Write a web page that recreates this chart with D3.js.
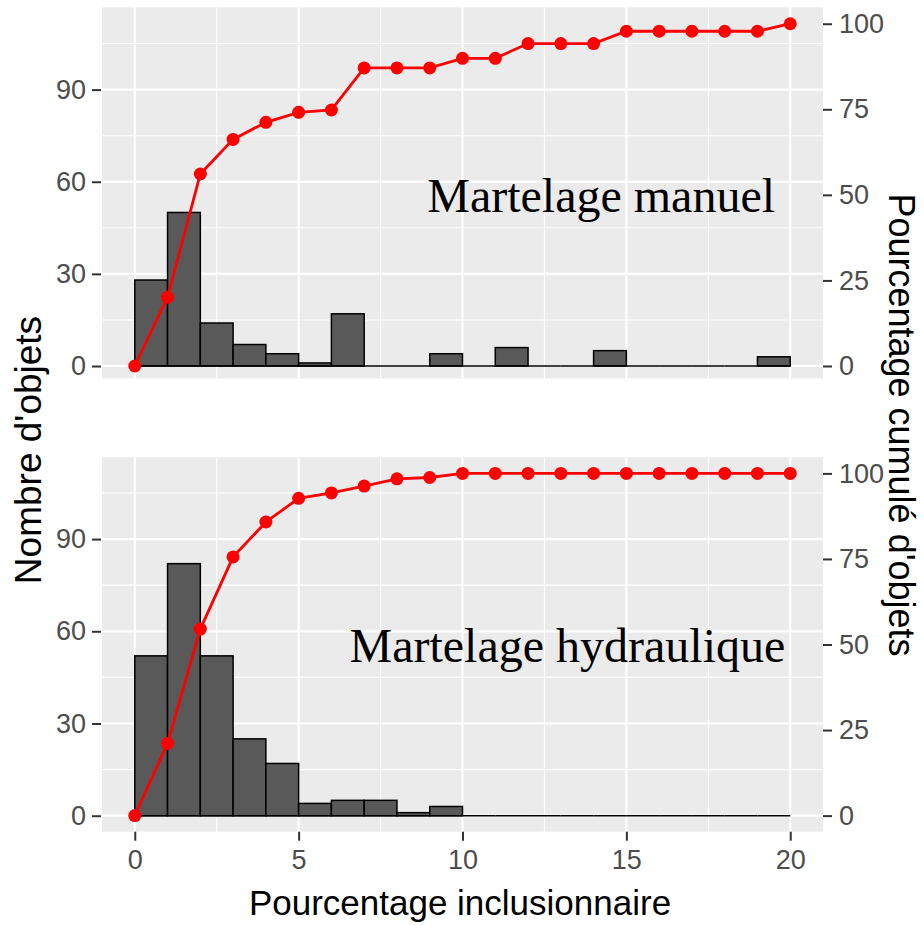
<!DOCTYPE html>
<html>
<head>
<meta charset="utf-8">
<title>Pourcentage inclusionnaire</title>
<script src="https://cdn.jsdelivr.net/npm/d3@7"></script>
<style>
  html, body { margin: 0; background: #fff; }
</style>
</head>
<body>
<script>
// bins of 1 % (0-1, 1-2, ... 19-20)
var binStarts = [0,1,2,3,4,5,6,7,8,9,10,11,12,13,14,15,16,17,18,19];
var cumX = [0,1,2,3,4,5,6,7,8,9,10,11,12,13,14,15,16,17,18,19,20];

var countsManuel = [28,50,14,7,4,1,17,0,0,4,0,6,0,0,5,0,0,0,0,3];
var cumManuel = [0,20.1,56.1,66.2,71.2,74.1,74.8,87.1,87.1,87.1,89.9,89.9,94.2,94.2,94.2,97.8,97.8,97.8,97.8,97.8,100];

var countsHydro = [52,82,52,25,17,4,5,5,1,3,0,0,0,0,0,0,0,0,0,0];
var cumHydro = [0,21.1,54.5,75.6,85.8,92.7,94.3,96.3,98.4,98.8,100,100,100,100,100,100,100,100,100,100,100];

var countTicks = [0,30,60,90];
var countMinor = [15,45,75,105];
var cumTicks = [0,25,50,75,100];
var xTicks = [0,5,10,15,20];
var xMinor = [2.5,7.5,12.5,17.5];

var width = 924, height = 925;
var svg = d3.select('body').append('svg').attr('width', width).attr('height', height);

var x = d3.scaleLinear().domain([-1, 21]).range([102, 823]);

// panel layout (pixels)
var panels = [
  {label: 'Martelage manuel', counts: countsManuel, cum: cumManuel,
   top: 7.3, bottom: 378.3, countDom: [-4.0, 116.8], cumDom: [-3.6, 104.8], labelX: 14.23},
  {label: 'Martelage hydraulique', counts: countsHydro, cum: cumHydro,
   top: 457.3, bottom: 831.7, countDom: [-5.2, 116.6], cumDom: [-4.7, 104.7], labelX: 13.2}
];

var sans = '"Liberation Sans", Arial, sans-serif';

panels.forEach(function(p, pi){
  var yC = d3.scaleLinear().domain(p.countDom).range([p.bottom, p.top]);
  var yP = d3.scaleLinear().domain(p.cumDom).range([p.bottom, p.top]);
  var g = svg.append('g');

  g.append('rect').attr('x', x.range()[0]).attr('y', p.top)
    .attr('width', x.range()[1] - x.range()[0]).attr('height', p.bottom - p.top)
    .attr('fill', '#EBEBEB');

  // grid
  g.selectAll('.hmin').data(countMinor).enter().append('line')
    .attr('x1', x.range()[0]).attr('x2', x.range()[1])
    .attr('y1', yC).attr('y2', yC).attr('stroke', '#fff').attr('stroke-width', 1.1);
  g.selectAll('.vmin').data(xMinor).enter().append('line')
    .attr('x1', x).attr('x2', x).attr('y1', p.top).attr('y2', p.bottom)
    .attr('stroke', '#fff').attr('stroke-width', 1.1);
  g.selectAll('.hmaj').data(countTicks).enter().append('line')
    .attr('x1', x.range()[0]).attr('x2', x.range()[1])
    .attr('y1', yC).attr('y2', yC).attr('stroke', '#fff').attr('stroke-width', 2.2);
  g.selectAll('.vmaj').data(xTicks).enter().append('line')
    .attr('x1', x).attr('x2', x).attr('y1', p.top).attr('y2', p.bottom)
    .attr('stroke', '#fff').attr('stroke-width', 2.2);

  // histogram bars
  g.selectAll('.bar').data(p.counts).enter().append('rect')
    .attr('x', function(d, i){ return x(binStarts[i]); })
    .attr('width', function(d, i){ return x(binStarts[i] + 1) - x(binStarts[i]); })
    .attr('y', function(d){ return yC(d); })
    .attr('height', function(d){ return yC(0) - yC(d); })
    .attr('fill', '#595959').attr('stroke', '#000').attr('stroke-width', 1.5);
  // empty bins still show their outline along the baseline
  g.selectAll('.base').data(p.counts).enter().append('line')
    .attr('x1', function(d, i){ return x(binStarts[i]); })
    .attr('x2', function(d, i){ return x(binStarts[i] + 1); })
    .attr('y1', yC(0)).attr('y2', yC(0))
    .attr('stroke', '#000').attr('stroke-width', 1.5);

  // cumulative line + points
  var line = d3.line().x(function(d, i){ return x(cumX[i]); }).y(function(d){ return yP(d); });
  g.append('path').datum(p.cum).attr('d', line)
    .attr('fill', 'none').attr('stroke', '#FF0000').attr('stroke-width', 2.8);
  g.selectAll('.pt').data(p.cum).enter().append('circle')
    .attr('cx', function(d, i){ return x(cumX[i]); })
    .attr('cy', function(d){ return yP(d); })
    .attr('r', 6.5).attr('fill', '#FF0000');

  // annotation
  g.append('text').attr('x', x(p.labelX)).attr('y', yC(50))
    .attr('text-anchor', 'middle')
    .style('font-family', '"Liberation Serif", "Times New Roman", serif')
    .style('font-size', '48px').attr('fill', '#000')
    .text(p.label);

  // left axis
  var left = d3.axisLeft(yC).tickValues(countTicks).tickSize(9).tickPadding(6);
  var la = g.append('g').attr('transform', 'translate(' + (x.range()[0] - 1) + ',0)').call(left);
  // right axis
  var right = d3.axisRight(yP).tickValues(cumTicks).tickSize(9).tickPadding(7);
  var ra = g.append('g').attr('transform', 'translate(' + (x.range()[1] + 0) + ',0)').call(right);
  [la, ra].forEach(function(a){
    a.select('.domain').remove();
    a.selectAll('.tick line').attr('stroke', '#333').attr('stroke-width', 2);
    a.selectAll('.tick text').attr('fill', '#4D4D4D')
      .style('font-family', sans).style('font-size', '27px');
  });

  if (pi === panels.length - 1) {
    var bottom = d3.axisBottom(x).tickValues(xTicks).tickSize(9).tickPadding(9);
    var ba = g.append('g').attr('transform', 'translate(0,' + p.bottom + ')').call(bottom);
    ba.select('.domain').remove();
    ba.selectAll('.tick line').attr('stroke', '#333').attr('stroke-width', 2);
    ba.selectAll('.tick text').attr('fill', '#4D4D4D')
      .style('font-family', sans).style('font-size', '27px');
  }
});

// axis titles
svg.append('text').attr('x', 460).attr('y', 915)
  .attr('text-anchor', 'middle').style('font-family', sans).style('font-size', '35px')
  .text('Pourcentage inclusionnaire');

svg.append('text').attr('transform', 'translate(41,450) rotate(-90)')
  .attr('text-anchor', 'middle').style('font-family', sans).style('font-size', '37px')
  .text("Nombre d'objets");

svg.append('text').attr('transform', 'translate(889,425) rotate(90)')
  .attr('text-anchor', 'middle').style('font-family', sans).style('font-size', '36px')
  .text("Pourcentage cumulé d'objets");
</script>
</body>
</html>
